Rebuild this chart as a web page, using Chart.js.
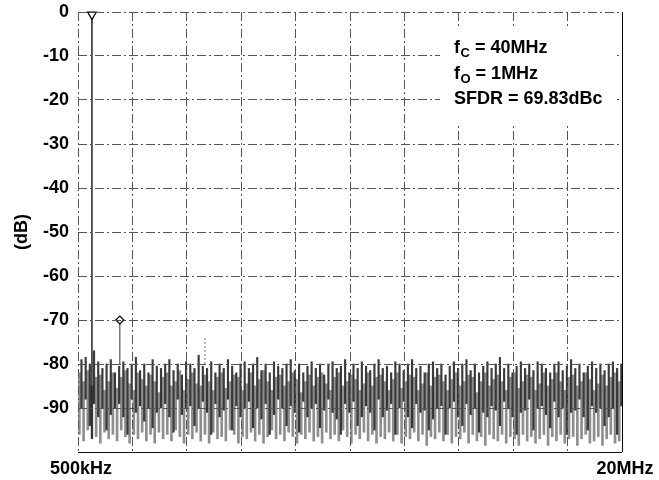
<!DOCTYPE html>
<html>
<head>
<meta charset="utf-8">
<script src="https://cdn.jsdelivr.net/npm/chart.js@4"></script>
<style>
  html, body { margin: 0; padding: 0; background: #fff; }
  #wrap { width: 659px; height: 480px; }
</style>
</head>
<body>
<div id="wrap"><canvas id="myChart"></canvas></div>
<script>
// frequency axis in MHz, level in dB
const gridFreqs = [0.5, 2.45, 4.4, 6.35, 8.3, 10.25, 12.2, 14.15, 16.1, 18.05, 20];
const freqLabels = ["500kHz", "20MHz"];

// fundamental and spurs
const toneFreqs = [1, 2];
const toneLevels = [-0.6, -70];
const toneFloors = [-97, -80];
const spurFreqs = [5.05];
const spurLevels = [-74];

// noise floor, read as vertical strokes (0.15 MHz apart)
const noiseStart = 0.55;
const noiseStep = 0.15;
const darkHi = [
  -79,-78.5,-80,-77,-79.5,-81,-80,-79,-82,-80.5,
  -79.5,-81,-80,-78.5,-81.5,-80,-82,-79,-80.5,-81,
  -80,-79,-81.5,-80,-82.5,-79.5,-80,-81,-78,-80.5,
  -81,-79.5,-82,-80,-81,-79,-80.5,-82,-80,-79.5,
  -81,-80,-78.5,-81.5,-80,-82,-79.5,-80.5,-81,-80,
  -79,-81.5,-80,-82,-80.5,-79.5,-81,-80,-82.5,-80,
  -79.5,-81,-80.5,-79,-82,-80,-81,-79.5,-80.5,-81.5,
  -80,-79,-81,-80.5,-82,-79.5,-80,-81.5,-80,-79,
  -81,-80.5,-82,-80,-79.5,-81,-80,-82.5,-80.5,-79.5,
  -81,-80,-79,-81.5,-80,-82,-80.5,-79.5,-81,-80,
  -78.5,-81,-80,-82,-80.5,-79.5,-81,-80,-81.5,-79.5,
  -80,-81,-82,-80,-79.5,-81.5,-80.5,-79,-81,-80,
  -82,-80.5,-79.5,-81,-80,-81.5,-80,-79.5,-81,-80
];
const darkLo = [
  -90,-88,-94,-89,-92,-90,-95,-91.5,-90,-89,
  -92,-96,-88,-91,-89.5,-93,-90,-94.5,-91,-90,
  -89,-92,-95.5,-88,-91.5,-90,-89.5,-94,-90,-88.5,
  -91,-96,-89,-92,-90.5,-88,-95,-89.5,-92,-90,
  -88.5,-94.5,-90,-92.5,-89,-96,-91.5,-88,-90,-94,
  -89.5,-91,-95.5,-88.5,-92,-90,-89,-94.5,-90.5,-88,
  -91,-92.5,-96,-89,-91,-88.5,-94,-92,-89.5,-91,
  -95,-88,-92,-90.5,-89,-96,-90,-88.5,-92,-94.5,
  -89,-91,-90.5,-95,-92.5,-90,-89.5,-96,-90,-88.5,
  -92,-94,-89,-91.5,-90,-95.5,-91,-92,-89.5,-90.5,
  -94,-88.5,-90,-92,-96,-91,-90.5,-88,-95,-90,
  -89.5,-91.5,-94.5,-88.5,-92,-90,-96,-91,-90.5,-88,
  -92,-95,-89.5,-91,-90,-94,-92,-90,-96,-89.5
];
const greyHi = [
  -82,-84,-81.5,-85,-83,-82.5,-86,-84,-82,-85.5,
  -83,-81.5,-84.5,-86,-82,-83.5,-85,-82.5,-84,-86.5,
  -83,-82,-85,-84,-81.5,-86,-83.5,-82,-84.5,-85,
  -82.5,-84,-86,-83,-82,-85.5,-84,-82.5,-83,-86,
  -84.5,-82,-85,-83.5,-81.5,-84,-86,-83,-82.5,-85,
  -84,-82,-83.5,-86.5,-84,-82.5,-85,-83,-82,-84.5,
  -86,-83,-82,-85,-84,-82.5,-83.5,-86,-84.5,-82,
  -85,-83,-82.5,-84,-86,-83.5,-82,-85.5,-84,-82.5,
  -83,-86,-84.5,-82,-85,-83,-82.5,-84,-86,-83.5,
  -82,-85,-84,-82.5,-83,-86.5,-84,-82,-85,-83.5,
  -82.5,-84,-86,-83,-82,-85.5,-84,-82.5,-83,-86,
  -84.5,-82,-85,-83.5,-82,-84,-86,-83,-82.5,-85,
  -84,-82,-83.5,-86,-84.5,-82.5,-85,-83,-82,-84
];
const greyLo = [
  -96,-97.5,-95,-97,-96.5,-98,-95.5,-97,-96,-97.5,
  -95,-96.5,-98,-96,-97,-95.5,-97.5,-96,-98,-95.5,
  -97,-96,-97.5,-95,-96.5,-98,-96,-97,-95.5,-97.5,
  -96,-98,-95.5,-97,-96.5,-97.5,-95,-96,-98,-96.5,
  -97,-95.5,-97.5,-96,-98,-96.5,-95,-97,-96,-97.5,
  -95.5,-96.5,-98,-96,-97,-95.5,-97.5,-96.5,-98,-95.5,
  -97,-96,-97.5,-95,-96.5,-98,-96,-97,-95.5,-97.5,
  -96,-98,-96.5,-97,-95.5,-97.5,-96,-98,-96.5,-97,
  -95.5,-97.5,-96,-98.5,-96.5,-97,-95.5,-97.5,-96,-98,
  -96.5,-97,-95.5,-98,-96,-97.5,-96.5,-98.5,-96,-97,
  -97.5,-96,-98,-96.5,-97,-98.5,-96,-97.5,-96.5,-98,
  -97,-96,-98.5,-96.5,-97.5,-96,-98,-97,-96.5,-98.5,
  -97,-96,-98,-97.5,-96.5,-98.5,-97,-96,-98,-97.5
];

const infoLines = [
  ["f", "C", " = 40MHz"],
  ["f", "O", " = 1MHz"],
  ["SFDR = 69.83dBc", "", ""]
];

const FONT = '"Liberation Sans", Arial, sans-serif';
Chart.defaults.font.family = FONT;
Chart.defaults.font.size = 18;
Chart.defaults.font.weight = "bold";
Chart.defaults.color = "#000";

const strokes = (hi, lo, shift) =>
  hi.map((h, i) => ({ x: noiseStart + shift + i * noiseStep, y: [lo[i], h] }));

const infoBox = {
  id: "infoBox",
  afterDraw(chart) {
    const { ctx, chartArea: a } = chart;
    const x0 = a.right - 182, y0 = a.top + 15;
    ctx.save();
    ctx.fillStyle = "#fff";
    ctx.fillRect(x0, y0, 174, 98);
    ctx.fillStyle = "#000";
    ctx.textBaseline = "alphabetic";
    infoLines.forEach((p, i) => {
      let x = x0 + 14;
      const y = y0 + 26 + i * 25.5;
      ctx.font = "bold 18px " + FONT;
      ctx.fillText(p[0], x, y);
      x += ctx.measureText(p[0]).width + 0.5;
      if (p[1]) {
        ctx.font = "bold 13px " + FONT;
        ctx.fillText(p[1], x, y + 4);
        x += ctx.measureText(p[1]).width;
      }
      ctx.font = "bold 18px " + FONT;
      ctx.fillText(p[2], x, y);
    });
    ctx.restore();
  },
};

const gridDash = [9, 3, 2, 3];

new Chart(document.getElementById("myChart"), {
  type: "line",
  data: {
    datasets: [
      {
        label: "fundamental",
        data: [{ x: toneFreqs[0], y: toneFloors[0] }, { x: toneFreqs[0], y: toneLevels[0] }],
        borderColor: "#000",
        borderWidth: 1.3,
        pointRadius: [0, 5],
        pointStyle: "triangle",
        rotation: 180,
        pointBackgroundColor: "#fff",
        pointBorderColor: "#000",
        pointBorderWidth: 1.2,
        clip: false,
        order: 1,
      },
      {
        label: "2nd harmonic",
        data: [{ x: toneFreqs[1], y: toneFloors[1] }, { x: toneFreqs[1], y: toneLevels[1] }],
        borderColor: "#333",
        borderWidth: 1,
        pointRadius: [0, 4],
        pointStyle: "rectRot",
        pointBackgroundColor: "#fff",
        pointBorderColor: "#000",
        pointBorderWidth: 1.2,
        order: 2,
      },
      {
        label: "spur",
        data: [{ x: spurFreqs[0], y: -80 }, { x: spurFreqs[0], y: spurLevels[0] }],
        borderColor: "#777",
        borderWidth: 1,
        borderDash: [2, 2],
        pointRadius: 0,
        order: 3,
      },
      {
        type: "bar",
        label: "noise dark",
        data: strokes(darkHi, darkLo, 0.075),
        backgroundColor: "rgba(10,10,10,0.8)",
        barThickness: 1.5,
        grouped: false,
        order: 4,
      },
      {
        type: "bar",
        label: "noise grey",
        data: strokes(greyHi, greyLo, 0),
        backgroundColor: "#8e8e8e",
        barThickness: 2,
        grouped: false,
        order: 5,
      },
    ],
  },
  options: {
    responsive: true,
    maintainAspectRatio: false,
    animation: false,
    layout: { padding: { top: 12, right: 37, bottom: 0, left: 0 } },
    plugins: { legend: { display: false }, tooltip: { enabled: false } },
    scales: {
      x: {
        type: "linear",
        min: 0.5,
        max: 20,
        offset: false,
        afterBuildTicks: (s) => { s.ticks = gridFreqs.map((v) => ({ value: v })); },
        afterFit: (s) => { s.height = 28; },
        ticks: {
          padding: 6,
          autoSkip: false,
          maxRotation: 0,
          labelOffset: 3,
          callback: (v, i, t) => (i === 0 ? freqLabels[0] : i === t.length - 1 ? freqLabels[1] : ""),
        },
        grid: {
          z: 1,
          offset: false,
          drawTicks: false,
          lineWidth: 1,
          color: (c) => (c.index === gridFreqs.length - 1 ? "#000" : "#555"),
        },
        border: {
          display: false,
          dash: (c) => (c.index === gridFreqs.length - 1 ? [] : gridDash),
        },
      },
      y: {
        min: -100,
        max: 0,
        afterFit: (s) => { s.width = 78; s.paddingTop = 0; s.paddingBottom = 0; },
        ticks: {
          stepSize: 10,
          padding: 9,
          callback: (v) => (v === -100 ? "" : v),
        },
        title: { display: true, text: "(dB)", padding: { top: 11, bottom: 0 } },
        grid: {
          z: 1,
          drawTicks: false,
          lineWidth: 1,
          color: (c) => (c.tick && c.tick.value === -100 ? "#111" : "#555"),
        },
        border: {
          display: false,
          dash: (c) => (c.tick && c.tick.value === -100 ? [] : gridDash),
        },
      },
    },
  },
  plugins: [infoBox],
});
</script>
</body>
</html>
